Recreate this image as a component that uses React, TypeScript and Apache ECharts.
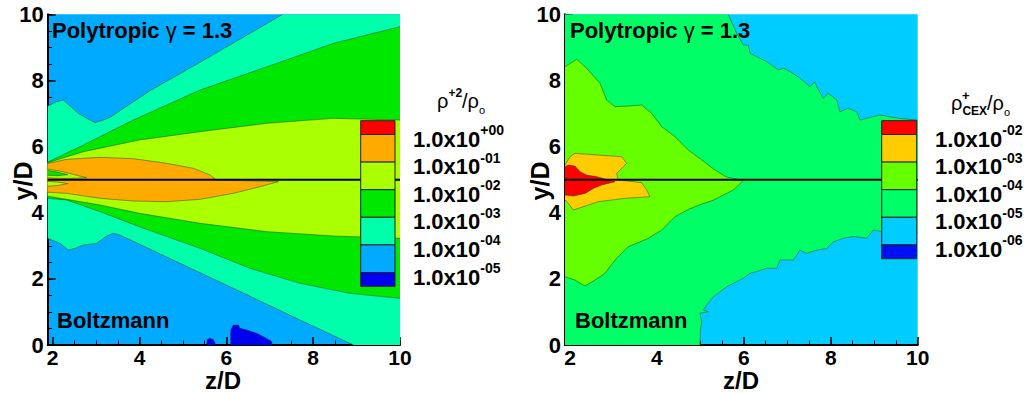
import React, { useEffect, useRef } from 'react';
import * as echarts from 'echarts';

const FONT = '"Liberation Sans", Arial, Helvetica, sans-serif';
const Z_MIN = 1.885;
const Z_MAX = 10;
const Y_MIN = 0;
const Y_MAX = 10;
const CENTER_Y = 5;

const zMajorTicks = [2, 4, 6, 8, 10];
const yMajorTicks = [0, 2, 4, 6, 8, 10];
const zMinorTicks = [2, 2.5, 3, 3.5, 4, 4.5, 5, 5.5, 6, 6.5, 7, 7.5, 8, 8.5, 9, 9.5, 10];
const yMinorTicks = [0, 0.5, 1, 1.5, 2, 2.5, 3, 3.5, 4, 4.5, 5, 5.5, 6, 6.5, 7, 7.5, 8, 8.5, 9, 9.5, 10];

// colour bar levels (top to bottom)
const leftLevelColors = ['#FF0000', '#FFAA00', '#AAFF00', '#00E800', '#00FFAA', '#00AAFF', '#0000F0'];
const leftLevelExponents = ['+00', '-01', '-02', '-03', '-04', '-05'];
const rightLevelColors = ['#FF0000', '#FFCC00', '#66FF00', '#00FF66', '#00CCFF', '#0010F0'];
const rightLevelExponents = ['-02', '-03', '-04', '-05', '-06'];

// ---------- left panel (rho+2 / rho0) contour regions, [z/D, y/D] ----------
const leftAqua = [
  [1.885, 7.227], [2.091, 7.358], [2.245, 7.408], [2.399, 7.227], [2.591, 7.005], [2.783, 6.854],
  [2.975, 6.723], [3.167, 6.803], [3.32, 6.884], [4.242, 7.69], [5.394, 8.547], [6.546, 9.424],
  [7.299, 10], [10, 10], [10, 0], [8.927, 0], [7.698, 0.756], [6.162, 1.713], [4.626, 2.66],
  [3.551, 3.326], [3.397, 3.376], [3.243, 3.296], [3.013, 3.074], [2.706, 3.024], [2.514, 2.923],
  [2.36, 2.872], [2.168, 3.074], [1.885, 3.225],
];
const leftDeepBlueA = [
  [6.101, 0], [6.101, 0.454], [6.161, 0.605], [6.277, 0.605], [6.316, 0.505], [6.47, 0.454],
  [6.7, 0.354], [6.931, 0.2], [7.046, 0.1], [7.053, 0],
];
const leftDeepBlueB = [[5.548, 0], [5.56, 0.17], [5.62, 0.2], [5.7, 0.17], [5.74, 0.05], [5.74, 0]];
const leftGreen = [
  [1.885, 5.53], [2.706, 6.047], [3.858, 6.803], [5.394, 7.71], [7.314, 8.588], [8.466, 9.122],
  [10, 9.626], [10, 1.411], [8.85, 1.562], [7.698, 1.865], [6.546, 2.318], [5.394, 2.923],
  [3.996, 3.577], [3.09, 4.033], [2.322, 4.385], [1.885, 4.435],
];
const leftYellowGreen = [
  [1.885, 5.51], [2.706, 5.846], [3.996, 6.199], [5.394, 6.451], [6.93, 6.703], [8.466, 6.854],
  [10, 6.803], [10, 3.225], [8.466, 3.296], [6.93, 3.427], [5.394, 3.68], [3.996, 3.983],
  [3.09, 4.233], [2.322, 4.405], [1.885, 4.5],
];
const leftOrange = [
  [1.885, 5.49], [2.322, 5.614], [3.09, 5.675], [3.858, 5.634], [4.626, 5.493], [5.24, 5.342],
  [5.625, 5.14], [5.778, 4.99], [7.199, 4.94], [6.776, 4.788], [6.162, 4.586], [5.394, 4.405],
  [4.626, 4.334], [3.858, 4.354], [3.09, 4.435], [2.322, 4.586], [1.885, 4.62],
];
const leftWedgeYellowGreenA = [[1.885, 5.32], [2.2, 5.25], [2.5, 5.15], [2.78, 5.06], [2.5, 5.04], [2.1, 5.04], [1.885, 5.06]];
const leftWedgeGreenA = [[1.885, 5.28], [2.1, 5.23], [2.35, 5.15], [2.1, 5.12], [1.885, 5.13]];
const leftWedgeYellowGreenB = [[1.885, 4.95], [2.1, 4.93], [2.35, 4.88], [2.1, 4.82], [1.885, 4.8]];

// ---------- right panel (rho+CEX / rho0) contour regions ----------
const rightGreen = [
  [1.885, 10], [5.64, 10], [5.835, 9.425], [5.988, 9.07], [6.103, 9.07], [6.142, 8.82], [6.372, 8.67],
  [6.526, 8.57], [6.793, 8.32], [6.908, 8.37], [7.062, 8.27], [7.292, 8.07], [7.522, 7.81],
  [7.637, 7.96], [7.676, 7.81], [7.829, 7.46], [7.944, 7.61], [8.137, 7.41], [8.213, 7.05],
  [8.405, 7.16], [8.597, 7.05], [8.673, 6.8], [8.827, 6.855], [9.133, 6.955], [9.363, 6.9],
  [9.554, 6.855], [10, 6.8], [10, 3.4], [9.172, 3.43], [8.98, 3.48], [8.827, 3.23], [8.52, 3.28],
  [8.29, 3.23], [8.06, 3.12], [7.907, 2.92], [7.676, 2.87], [7.446, 2.77], [7.292, 2.87],
  [7.139, 2.57], [6.832, 2.57], [6.756, 2.32], [6.526, 2.32], [6.296, 2.22], [6.142, 2.17],
  [5.988, 2.02], [5.758, 1.866], [5.605, 1.76], [5.297, 1.46], [5.145, 1.21], [5.067, 1.06],
  [5.18, 1.01], [4.99, 0.96], [5.03, 0.7], [5.0, 0.45], [4.991, 0], [1.885, 0],
];
const rightYellowGreen = [
  [1.885, 8.416], [2.154, 8.638], [2.384, 8.366], [2.69, 7.912], [2.844, 7.408], [3.036, 7.207],
  [3.342, 7.227], [3.649, 7.257], [3.879, 7.005], [4.109, 6.602], [4.416, 6.299], [4.723, 5.896],
  [5.03, 5.594], [5.337, 5.291], [5.6, 5.08], [5.988, 4.97], [5.76, 4.69], [5.3, 4.38],
  [5.03, 4.26], [4.723, 4.1], [4.416, 3.881], [4.109, 3.477], [3.803, 3.225], [3.342, 2.973],
  [3.036, 2.57], [2.805, 2.167], [2.575, 1.965], [2.345, 1.784], [2.115, 1.965], [1.885, 2.066],
];
const rightOrange = [
  [1.885, 5.443], [2.0, 5.694], [2.115, 5.795], [2.652, 5.745], [3.189, 5.694], [3.304, 5.493],
  [3.227, 5.392], [3.074, 5.19], [3.112, 4.99], [3.649, 4.909], [3.764, 4.687], [3.841, 4.485],
  [3.266, 4.435], [2.652, 4.334], [2.077, 4.082], [1.962, 4.283], [1.885, 4.384],
];
const rightRed = [
  [1.885, 5.392], [1.962, 5.443], [2.115, 5.412], [2.23, 5.241], [2.384, 5.14], [2.614, 5.09],
  [3.036, 4.938], [2.729, 4.838], [2.537, 4.735], [2.345, 4.584], [2.077, 4.505], [1.885, 4.535],
];

const centerLine = [[Z_MIN, CENTER_Y], [Z_MAX, CENTER_Y]];

const leftRegions = [
  { pts: leftAqua, color: leftLevelColors[4] },
  { pts: leftDeepBlueA, color: leftLevelColors[6] },
  { pts: leftDeepBlueB, color: leftLevelColors[6] },
  { pts: leftGreen, color: leftLevelColors[3] },
  { pts: leftYellowGreen, color: leftLevelColors[2] },
  { pts: leftOrange, color: leftLevelColors[1] },
  { pts: leftWedgeYellowGreenA, color: leftLevelColors[2] },
  { pts: leftWedgeGreenA, color: leftLevelColors[3] },
  { pts: leftWedgeYellowGreenB, color: leftLevelColors[2] },
];
const rightRegions = [
  { pts: rightGreen, color: rightLevelColors[3] },
  { pts: rightYellowGreen, color: rightLevelColors[2] },
  { pts: rightOrange, color: rightLevelColors[1] },
  { pts: rightRed, color: rightLevelColors[0] },
];

function onEdge(a: number[], b: number[]) {
  const e = 0.01;
  return (
    (Math.abs(a[0] - Z_MIN) < e && Math.abs(b[0] - Z_MIN) < e) ||
    (Math.abs(a[0] - Z_MAX) < e && Math.abs(b[0] - Z_MAX) < e) ||
    (Math.abs(a[1] - Y_MIN) < e && Math.abs(b[1] - Y_MIN) < e) ||
    (Math.abs(a[1] - Y_MAX) < e && Math.abs(b[1] - Y_MAX) < e)
  );
}

function regionSeries(pts: number[][], color: string, axisIdx: number) {
  return {
    type: 'custom',
    xAxisIndex: axisIdx,
    yAxisIndex: axisIdx,
    clip: true,
    silent: true,
    data: pts,
    encode: { x: 0, y: 1 },
    renderItem: (params: any, api: any) => {
      if (params.dataIndex !== 0) return null;
      const px = pts.map((p) => api.coord(p));
      const children: any[] = [
        { type: 'polygon', shape: { points: px }, style: { fill: color, stroke: null } },
      ];
      const segs: any[] = [];
      let cur: any[] = [];
      for (let i = 0; i < pts.length; i++) {
        const j = (i + 1) % pts.length;
        if (onEdge(pts[i], pts[j])) {
          if (cur.length > 1) segs.push(cur);
          cur = [];
        } else {
          if (cur.length === 0) cur.push(px[i]);
          cur.push(px[j]);
        }
      }
      if (cur.length > 1) segs.push(cur);
      segs.forEach((s) =>
        children.push({
          type: 'polyline',
          shape: { points: s },
          style: { stroke: 'rgba(20,40,20,0.55)', lineWidth: 0.8, fill: null },
        })
      );
      return { type: 'group', children };
    },
  };
}

function axesFor(gridIndex: number) {
  const label = { color: '#000', fontSize: 21, fontWeight: 'bold', fontFamily: FONT, lineHeight: 18 };
  const xMajor = {
    gridIndex, type: 'value', min: Z_MIN, max: Z_MAX, position: 'bottom',
    axisLine: { show: true, onZero: false, lineStyle: { color: '#000', width: 2 } },
    axisTick: { show: true, inside: true, length: 8, customValues: zMajorTicks, lineStyle: { color: '#000', width: 1.5 } },
    axisLabel: { ...label, customValues: zMajorTicks, margin: 3 },
    splitLine: { show: false },
  };
  const xMinor = {
    gridIndex, type: 'value', min: Z_MIN, max: Z_MAX, position: 'bottom',
    axisLine: { show: false },
    axisTick: { show: true, inside: true, length: 4.5, customValues: zMinorTicks, lineStyle: { color: '#000', width: 1 } },
    axisLabel: { show: false },
    splitLine: { show: false },
  };
  const yMajor = {
    gridIndex, type: 'value', min: Y_MIN, max: Y_MAX, position: 'left',
    axisLine: { show: true, onZero: false, lineStyle: { color: '#000', width: 2 } },
    axisTick: { show: true, inside: true, length: 8, customValues: yMajorTicks, lineStyle: { color: '#000', width: 1.5 } },
    axisLabel: { ...label, fontSize: 22, customValues: yMajorTicks, margin: 4 },
    splitLine: { show: false },
  };
  const yMinor = {
    gridIndex, type: 'value', min: Y_MIN, max: Y_MAX, position: 'left',
    axisLine: { show: false },
    axisTick: { show: true, inside: true, length: 4.5, customValues: yMinorTicks, lineStyle: { color: '#000', width: 1 } },
    axisLabel: { show: false },
    splitLine: { show: false },
  };
  return { x: [xMajor, xMinor], y: [yMajor, yMinor] };
}

function text(x: number, y: number, t: string, extra: any = {}, style: any = {}) {
  return {
    type: 'text', x, y, z: 100, silent: true, ...extra,
    style: {
      text: t, fill: '#000', fontFamily: FONT, fontSize: 22, fontWeight: 'bold',
      align: 'left', verticalAlign: 'middle',
      ...style,
    },
  };
}

const labelRich = {
  b: { fontSize: 22, fontWeight: 'bold', fontFamily: FONT, lineHeight: 27, verticalAlign: 'bottom', color: '#000' },
  s: { fontSize: 14, fontWeight: 'bold', fontFamily: FONT, verticalAlign: 'top', color: '#000' },
};

function colorBar(x: number, w: number, top: number, colors: string[], exps: string[], labelX: number) {
  const full = 27.6;
  const half = full / 2;
  const els: any[] = [];
  let yPos = top;
  colors.forEach((c, i) => {
    const h = i === 0 || i === colors.length - 1 ? half : full;
    els.push({
      type: 'rect', z: 90, silent: true,
      shape: { x, y: yPos, width: w, height: h },
      style: { fill: c, stroke: '#222', lineWidth: 1 },
    });
    yPos += h;
  });
  exps.forEach((e, i) => {
    const by = top + half + full * i;
    els.push(text(labelX, by + 2, `{b|1.0x10}{s|${e}}`, {}, { rich: labelRich }));
  });
  return els;
}

export default function App() {
  const ref = useRef<HTMLDivElement>(null);
  useEffect(() => {
    if (!ref.current) return;
    const chart = echarts.init(ref.current, undefined, { renderer: 'svg' });
    const a0 = axesFor(0);
    const a1 = axesFor(1);

    const series: any[] = [];
    leftRegions.forEach((r) => series.push(regionSeries(r.pts, r.color, 0)));
    series.push({
      type: 'line', xAxisIndex: 0, yAxisIndex: 0, data: centerLine, symbol: 'none', silent: true,
      lineStyle: { color: '#000', width: 2 }, z: 5,
    });
    rightRegions.forEach((r) => series.push(regionSeries(r.pts, r.color, 2)));
    series.push({
      type: 'line', xAxisIndex: 2, yAxisIndex: 2, data: centerLine, symbol: 'none', silent: true,
      lineStyle: { color: '#000', width: 2 }, z: 5,
    });

    const titleRich = {
      n: { fontSize: 20, fontFamily: FONT, fontWeight: 'normal', color: '#000', lineHeight: 28, verticalAlign: 'middle' },
      sup: { fontSize: 12, fontFamily: FONT, fontWeight: 'bold', color: '#000', verticalAlign: 'top' },
      sub: { fontSize: 11, fontFamily: FONT, fontWeight: 'normal', color: '#000', verticalAlign: 'bottom' },
      subb: { fontSize: 12, fontFamily: FONT, fontWeight: 'bold', color: '#000', verticalAlign: 'bottom' },
    };
    const annRich = {
      b: { fontSize: 22, fontWeight: 'bold', fontFamily: FONT, color: '#000' },
      g: { fontSize: 22, fontWeight: 'normal', fontFamily: FONT, color: '#000' },
    };

    const graphic: any[] = [
      text(52, 30, '{b|Polytropic }{g|γ}{b| = 1.3}', {}, { rich: annRich }),
      text(57, 320, 'Boltzmann'),
      text(570, 30, '{b|Polytropic }{g|γ}{b| = 1.3}', {}, { rich: annRich }),
      text(575, 320, 'Boltzmann'),
      text(223, 380, 'z/D', {}, { fontSize: 24, lineHeight: 20, align: 'center' }),
      text(741, 380, 'z/D', {}, { fontSize: 24, lineHeight: 20, align: 'center' }),
      text(23, 181, 'y/D', { rotation: Math.PI / 2 }, { fontSize: 25, lineHeight: 20, align: 'center' }),
      text(540, 181, 'y/D', { rotation: Math.PI / 2 }, { fontSize: 25, lineHeight: 20, align: 'center' }),
      text(437, 101, '{n|ρ}{sup|+2}{n|/ρ}{sub|o}', {}, { rich: titleRich }),
      text(951, 103, '{n|ρ}{subb|CEX}{n|/ρ}{sub|o}', {}, { rich: titleRich }),
      text(962, 95, '+', {}, { fontSize: 13 }),
      ...colorBar(360.7, 34.3, 120.7, leftLevelColors, leftLevelExponents, 413),
      ...colorBar(881.7, 35, 120.7, rightLevelColors, rightLevelExponents, 935),
    ];

    chart.setOption({
      animation: false,
      backgroundColor: '#fff',
      grid: [
        { left: 47.7, top: 14.3, width: 352.3, height: 330.7, show: true, backgroundColor: leftLevelColors[5], borderWidth: 0 },
        { left: 565, top: 14.3, width: 352.7, height: 330.7, show: true, backgroundColor: rightLevelColors[4], borderWidth: 0 },
      ],
      xAxis: [...a0.x, ...a1.x],
      yAxis: [...a0.y, ...a1.y],
      series,
      graphic,
    });
    return () => chart.dispose();
  }, []);
  return <div ref={ref} style={{ position: 'fixed', left: 0, top: 0, width: 1030, height: 393 }} />;
}
